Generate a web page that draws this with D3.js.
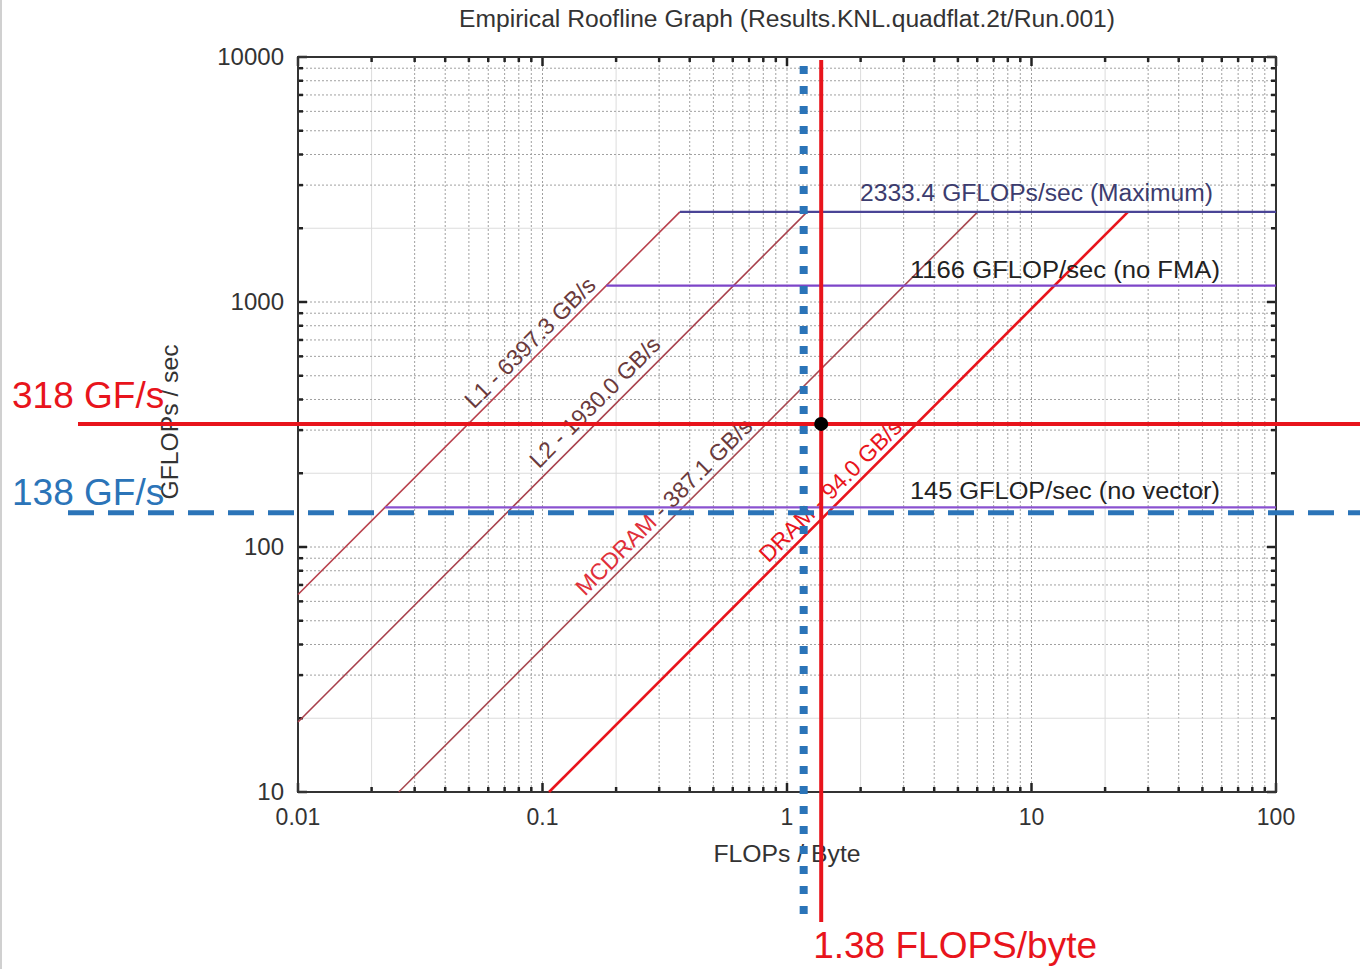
<!DOCTYPE html>
<html>
<head>
<meta charset="utf-8">
<script src="https://cdn.jsdelivr.net/npm/d3@7"></script>
<style>
  html, body { margin: 0; padding: 0; background: #fff; }
  svg { display: block; font-family: "Liberation Sans", Arial, sans-serif; }
</style>
</head>
<body>
<svg id="chart" width="1360" height="969"></svg>
<script>
// Roofline parameters (FLOPs/byte vs GFLOPs/sec)
const peakNames = ["2333.4 GFLOPs/sec (Maximum)", "1166 GFLOP/sec (no FMA)", "145 GFLOP/sec (no vector)"];
const peakValues = [2333.4, 1166, 145];
const bwNames = ["L1", "L2", "MCDRAM", "DRAM"];
const bwValues = [6397.3, 1930.0, 387.1, 94.0];
const bwLabelAt = [0.0975, 0.182, 0.344, 1.65];   // intensity where each bandwidth label sits
const xTickValues = [0.01, 0.1, 1, 10, 100];
const xTickLabels = ["0.01", "0.1", "1", "10", "100"];
const yTickValues = [10, 100, 1000, 10000];
const yTickLabels = ["10", "100", "1000", "10000"];

// Measured application point and its annotations
const appIntensity = 1.38;     // FLOPS/byte
const appPerf = 318;           // GF/s
const altPerf = 138;           // GF/s
const altIntensity = 1.17;     // FLOPS/byte

const svg = d3.select("#chart");
const W = 1360, H = 969;
const plotL = 298, plotR = 1276, plotT = 57, plotB = 792;

const x = d3.scaleLog().domain([0.01, 100]).range([plotL, plotR]);
const y = d3.scaleLog().domain([10, 10000]).range([plotB, plotT]);

const RED = "#e8141c", BLUE = "#2b74b8";

// thin page border
svg.append("line").attr("x1", 1).attr("x2", 1).attr("y1", 0).attr("y2", H)
  .attr("stroke", "#d0d0d0").attr("stroke-width", 2);

// title
svg.append("text").attr("x", 787).attr("y", 27).attr("text-anchor", "middle")
  .attr("font-size", 23).attr("fill", "#333")
  .attr("textLength", 656).attr("lengthAdjust", "spacingAndGlyphs")
  .text("Empirical Roofline Graph (Results.KNL.quadflat.2t/Run.001)");

// ---- grid ----
function minorValues(domain) {
  const out = [];
  for (let d = domain[0]; d < domain[1] * 0.999; d *= 10) {
    for (let k = 1; k <= 9; k++) out.push({v: d * k, k});
  }
  out.push({v: domain[1], k: 1});
  return out;
}
const xGrid = minorValues(x.domain());
const yGrid = minorValues(y.domain());
const inner = (d, s) => d.v > s.domain()[0] * 1.001 && d.v < s.domain()[1] * 0.999;
const grid = svg.append("g");
grid.selectAll("line.gx").data(xGrid.filter(d => inner(d, x))).join("line").attr("class", "gx")
  .attr("x1", d => x(d.v)).attr("x2", d => x(d.v)).attr("y1", plotT).attr("y2", plotB)
  .attr("stroke", d => d.k === 2 ? "#dcdcdc" : "#a0a0a0")
  .attr("stroke-width", 1)
  .attr("stroke-dasharray", d => d.k === 2 ? null : "2,2");
grid.selectAll("line.gy").data(yGrid.filter(d => inner(d, y))).join("line").attr("class", "gy")
  .attr("y1", d => y(d.v)).attr("y2", d => y(d.v)).attr("x1", plotL).attr("x2", plotR)
  .attr("stroke", d => d.k === 2 ? "#dcdcdc" : "#a0a0a0")
  .attr("stroke-width", 1)
  .attr("stroke-dasharray", d => d.k === 2 ? null : "2,2");

// ---- axes (inward ticks on all four sides) ----
function tickLen(d) { return d.k === 1 ? 9 : 5; }
const tk = svg.append("g").attr("stroke", "#222").attr("stroke-width", 2.5);
tk.selectAll("line.tb").data(xGrid).join("line").attr("class", "tb")
  .attr("x1", d => x(d.v)).attr("x2", d => x(d.v)).attr("y1", plotB).attr("y2", d => plotB - tickLen(d));
tk.selectAll("line.tt").data(xGrid).join("line").attr("class", "tt")
  .attr("x1", d => x(d.v)).attr("x2", d => x(d.v)).attr("y1", plotT).attr("y2", d => plotT + tickLen(d));
tk.selectAll("line.tl").data(yGrid).join("line").attr("class", "tl")
  .attr("y1", d => y(d.v)).attr("y2", d => y(d.v)).attr("x1", plotL).attr("x2", d => plotL + tickLen(d));
tk.selectAll("line.tr").data(yGrid).join("line").attr("class", "tr")
  .attr("y1", d => y(d.v)).attr("y2", d => y(d.v)).attr("x1", plotR).attr("x2", d => plotR - tickLen(d));

svg.append("rect").attr("x", plotL).attr("y", plotT).attr("width", plotR - plotL).attr("height", plotB - plotT)
  .attr("fill", "none").attr("stroke", "#333").attr("stroke-width", 2);

svg.append("g").selectAll("text").data(xTickValues).join("text")
  .attr("x", d => x(d)).attr("y", plotB + 33).attr("text-anchor", "middle")
  .attr("font-size", 23).attr("fill", "#333")
  .text((d, i) => xTickLabels[i]);
svg.append("g").selectAll("text").data(yTickValues).join("text")
  .attr("x", plotL - 14).attr("y", d => y(d) + 8).attr("text-anchor", "end")
  .attr("font-size", 24).attr("fill", "#333")
  .text((d, i) => yTickLabels[i]);

svg.append("text").attr("x", 787).attr("y", 862).attr("text-anchor", "middle")
  .attr("font-size", 23).attr("fill", "#333")
  .attr("textLength", 147).attr("lengthAdjust", "spacingAndGlyphs").text("FLOPs / Byte");
svg.append("text").attr("transform", "translate(178,422) rotate(-90)").attr("text-anchor", "middle")
  .attr("font-size", 23).attr("fill", "#333")
  .attr("textLength", 155).attr("lengthAdjust", "spacingAndGlyphs").text("GFLOPs / sec");

// ---- rooflines ----
const roof = svg.append("g");
const peak = peakValues[0];
const bwStroke = ["#b8404c", "#a8404c", "#a84850", RED];
const bwWidth = [1.6, 1.6, 1.6, 2.6];
bwValues.forEach((bw, i) => {
  const x0 = Math.max(x.domain()[0], y.domain()[0] / bw);
  const x1 = peak / bw;
  roof.append("line")
    .attr("x1", x(x0)).attr("y1", y(bw * x0))
    .attr("x2", x(x1)).attr("y2", y(bw * x1))
    .attr("stroke", bwStroke[i]).attr("stroke-width", bwWidth[i]);
});

// horizontal ceilings start where the L1 bandwidth line reaches them
const peakStroke = ["#4a4496", "#7d45c8", "#8a52d0"];
peakValues.forEach((p, i) => {
  roof.append("line")
    .attr("x1", x(p / bwValues[0])).attr("x2", plotR)
    .attr("y1", y(p)).attr("y2", y(p))
    .attr("stroke", peakStroke[i]).attr("stroke-width", 2.2);
});

// ceiling labels
const peakLabelX = [860, 910, 910];
const peakLabelDy = [-11, -8, -8];
const peakLabelFill = ["#3c3c6e", "#222", "#222"];
peakValues.forEach((p, i) => {
  svg.append("text").attr("x", peakLabelX[i]).attr("y", y(p) + peakLabelDy[i])
    .attr("font-size", 23).attr("fill", peakLabelFill[i])
    .attr("textLength", i === 0 ? 353 : 310).attr("lengthAdjust", "spacingAndGlyphs")
    .text(peakNames[i]);
});

// bandwidth labels, rotated along each line
const bwLabelFill = ["#6a3a3c", "#6a3a3c", "#6a3a3c", RED];
const bwLabelDy = [-6, -8, -6, -6];
bwValues.forEach((bw, i) => {
  const xv = bwLabelAt[i];
  const px = x(xv), py = y(bw * xv);
  const t = svg.append("text")
    .attr("transform", `translate(${px},${py}) rotate(-45)`)
    .attr("text-anchor", "middle").attr("dy", bwLabelDy[i])
    .attr("font-size", 23).attr("fill", bwLabelFill[i]);
  if (bwNames[i] === "MCDRAM") {
    t.append("tspan").attr("fill", "#e0303a").text("MCDRAM");
    t.append("tspan").text(" - " + bw.toFixed(1) + " GB/s");
  } else {
    t.text(`${bwNames[i]} - ${bw.toFixed(1)} GB/s`);
  }
});

// ---- annotations ----
const ann = svg.append("g");
// blue dashed horizontal
ann.append("line").attr("x1", 68).attr("x2", W).attr("y1", y(altPerf)).attr("y2", y(altPerf))
  .attr("stroke", BLUE).attr("stroke-width", 5).attr("stroke-dasharray", "26,14");
// blue dotted vertical
ann.append("line").attr("x1", x(altIntensity)).attr("x2", x(altIntensity)).attr("y1", 66).attr("y2", 922)
  .attr("stroke", BLUE).attr("stroke-width", 8).attr("stroke-dasharray", "8,12");
// red horizontal and vertical
ann.append("line").attr("x1", 78).attr("x2", W).attr("y1", y(appPerf)).attr("y2", y(appPerf))
  .attr("stroke", RED).attr("stroke-width", 4);
ann.append("line").attr("x1", x(appIntensity)).attr("x2", x(appIntensity)).attr("y1", 60).attr("y2", 922)
  .attr("stroke", RED).attr("stroke-width", 4);
// measured point
ann.append("circle").attr("cx", x(appIntensity)).attr("cy", y(appPerf)).attr("r", 7).attr("fill", "#000");

ann.append("text").attr("x", 12).attr("y", y(appPerf) - 16).attr("font-size", 37).attr("fill", RED)
  .text(appPerf + " GF/s");
ann.append("text").attr("x", 12).attr("y", y(altPerf) - 8).attr("font-size", 37).attr("fill", BLUE)
  .text(altPerf + " GF/s");
ann.append("text").attr("x", x(appIntensity) - 8).attr("y", 958).attr("font-size", 37).attr("fill", RED)
  .text(appIntensity.toFixed(2) + " FLOPS/byte");
</script>
</body>
</html>
